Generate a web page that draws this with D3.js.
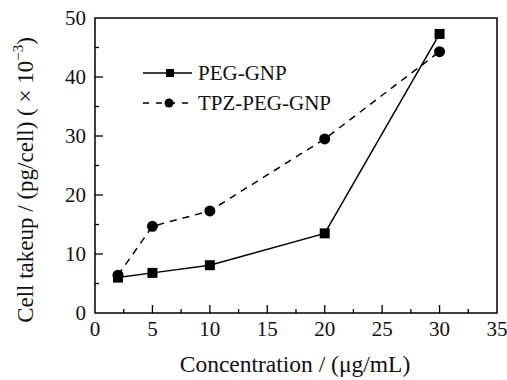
<!DOCTYPE html>
<html>
<head>
<meta charset="utf-8">
<script src="https://cdn.jsdelivr.net/npm/d3@7"></script>
<style>
  body { margin: 0; background: #fff; }
</style>
</head>
<body>
<svg id="chart" width="507" height="380"></svg>
<script>
// concentrations (ug/mL)
const conc = [2, 5, 10, 20, 30];
// cell takeup (x10^-3 pg/cell)
const pegGnp = [6.0, 6.8, 8.1, 13.5, 47.3];
const tpzPegGnp = [6.4, 14.7, 17.3, 29.5, 44.3];
const xTicks = [0, 5, 10, 15, 20, 25, 30, 35];
const yTicks = [0, 10, 20, 30, 40, 50];
const seriesNames = ["PEG-GNP", "TPZ-PEG-GNP"];

const FONT = '"Liberation Serif", "Times New Roman", serif';
const svg = d3.select("#chart");
const m = { left: 95, right: 10, top: 18, bottom: 67 };
const w = 507 - m.left - m.right, h = 380 - m.top - m.bottom;

const x = d3.scaleLinear().domain([0, 35]).range([0, w]);
const y = d3.scaleLinear().domain([0, 50]).range([h, 0]);

const g = svg.append("g").attr("transform", `translate(${m.left},${m.top})`);

// frame
g.append("rect").attr("width", w).attr("height", h)
  .attr("fill", "none").attr("stroke", "#000").attr("stroke-width", 1.5);

// ticks inside the frame
const minorX = d3.range(2.5, 35, 5);
const minorY = d3.range(5, 50, 10);
g.selectAll(".xt").data(xTicks.slice(1, -1)).enter().append("line")
  .attr("x1", d => x(d)).attr("x2", d => x(d)).attr("y1", h).attr("y2", h - 8)
  .attr("stroke", "#000").attr("stroke-width", 1.3);
g.selectAll(".xm").data(minorX).enter().append("line")
  .attr("x1", d => x(d)).attr("x2", d => x(d)).attr("y1", h).attr("y2", h - 4)
  .attr("stroke", "#000").attr("stroke-width", 1.3);
g.selectAll(".yt").data(yTicks.slice(1, -1)).enter().append("line")
  .attr("x1", 0).attr("x2", 8).attr("y1", d => y(d)).attr("y2", d => y(d))
  .attr("stroke", "#000").attr("stroke-width", 1.3);
g.selectAll(".ym").data(minorY).enter().append("line")
  .attr("x1", 0).attr("x2", 4).attr("y1", d => y(d)).attr("y2", d => y(d))
  .attr("stroke", "#000").attr("stroke-width", 1.3);

// tick labels
g.selectAll(".xl").data(xTicks).enter().append("text")
  .attr("x", d => x(d)).attr("y", h + 23).attr("text-anchor", "middle")
  .style("font-family", FONT).attr("font-size", 21).attr("fill", "#111").text(d => d);
g.selectAll(".yl").data(yTicks).enter().append("text")
  .attr("x", -9).attr("y", d => y(d) + 7).attr("text-anchor", "end")
  .style("font-family", FONT).attr("font-size", 21).attr("fill", "#111").text(d => d);

// axis titles
svg.append("text").attr("x", 295).attr("y", 372)
  .attr("text-anchor", "middle").style("font-family", FONT)
  .attr("font-size", 23.5).attr("fill", "#111")
  .text("Concentration / (\u03bcg/mL)");
const yt = svg.append("text")
  .attr("transform", `translate(33,180) rotate(-90)`)
  .attr("text-anchor", "middle").style("font-family", FONT)
  .attr("font-size", 23).attr("fill", "#111");
yt.append("tspan").text("Cell takeup / (pg/cell) ( \u00d7 10");
yt.append("tspan").attr("dy", -10).attr("font-size", 15).text("\u22123");
yt.append("tspan").attr("dy", 10).text(")");

// series
const pts = arr => conc.map((c, i) => [x(c), y(arr[i])]);
const line = d3.line();
g.append("path").attr("d", line(pts(pegGnp))).attr("fill", "none")
  .attr("stroke", "#000").attr("stroke-width", 1.5);
g.append("path").attr("d", line(pts(tpzPegGnp))).attr("fill", "none")
  .attr("stroke", "#000").attr("stroke-width", 1.5).attr("stroke-dasharray", "7,6");

g.selectAll(".sq").data(pts(pegGnp)).enter().append("rect")
  .attr("x", d => d[0] - 5).attr("y", d => d[1] - 5).attr("width", 10).attr("height", 10)
  .attr("fill", "#000");
g.selectAll(".ci").data(pts(tpzPegGnp)).enter().append("circle")
  .attr("cx", d => d[0]).attr("cy", d => d[1]).attr("r", 5.5).attr("fill", "#000");

// legend
const lg = svg.append("g");
lg.append("line").attr("x1", 143).attr("x2", 192).attr("y1", 73).attr("y2", 73)
  .attr("stroke", "#000").attr("stroke-width", 1.5);
lg.append("rect").attr("x", 166).attr("y", 69).attr("width", 8).attr("height", 8).attr("fill", "#000");
lg.append("text").attr("x", 198).attr("y", 80).style("font-family", FONT)
  .attr("font-size", 21).attr("fill", "#111").text(seriesNames[0]);
lg.append("line").attr("x1", 143).attr("x2", 192).attr("y1", 103).attr("y2", 103)
  .attr("stroke", "#000").attr("stroke-width", 1.5).attr("stroke-dasharray", "6,7");
lg.append("circle").attr("cx", 169).attr("cy", 103).attr("r", 4.5).attr("fill", "#000");
lg.append("text").attr("x", 198).attr("y", 110).style("font-family", FONT)
  .attr("font-size", 21).attr("fill", "#111").text(seriesNames[1]);
</script>
</body>
</html>
